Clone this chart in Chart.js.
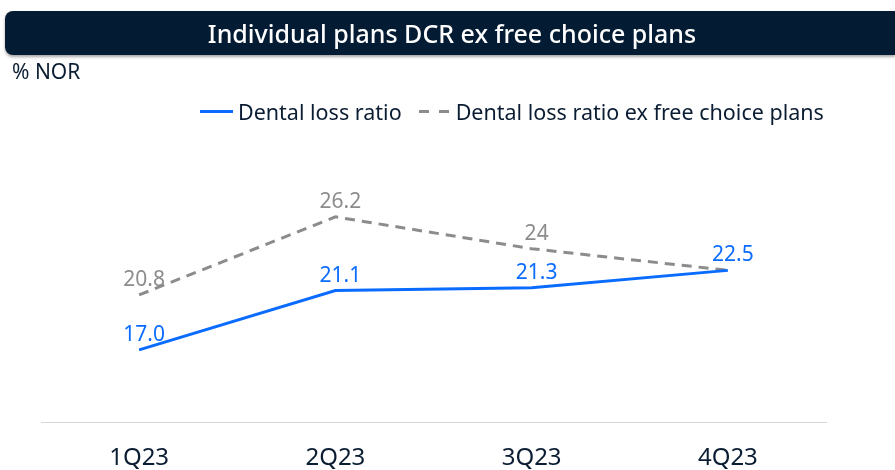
<!DOCTYPE html>
<html>
<head>
<meta charset="utf-8">
<script src="https://cdn.jsdelivr.net/npm/chart.js@4"></script>
<style>
    html, body { margin: 0; padding: 0; background: #fff; overflow: hidden; }
    body { width: 895px; height: 470px; position: relative; font-family: "Noto Sans", sans-serif; color: #0b1d33; }
    .titleBar {
        position: absolute; left: 5px; top: 11px; width: 890px; height: 44px;
        background: #031c33; border-radius: 8px 0 0 8px;
        box-shadow: 0 2px 3px rgba(0,0,0,0.35);
        color: #fff; font-size: 25px; font-weight: 500;
        display: flex; align-items: center; justify-content: center;
        padding-left: 4px; box-sizing: border-box;
    }
    .unit { position: absolute; left: 12px; top: 57px; font-size: 21px; }
    .legend { position: absolute; top: 97px; left: 200px; font-size: 21.5px; display: flex; align-items: center; white-space: nowrap; }
    .legend .swatch { display: inline-block; width: 33px; height: 3px; margin-right: 5px; }
    .legend .solid { background: #0a6cff; }
    .legend .dashed {
        width: 31px; margin-left: 17px; margin-right: 6px;
        background: repeating-linear-gradient(to right, #8c8c8c 0 10px, transparent 10px 20px);
    }
    #wrap { position: absolute; left: 0; top: 0; width: 895px; height: 509px; }
</style>
</head>
<body>
<div id="wrap"><canvas id="lossChart"></canvas></div>
<div class="titleBar">Individual plans DCR ex free choice plans</div>
<div class="unit">% NOR</div>
<div class="legend">
    <span class="swatch solid"></span><span>Dental loss ratio</span>
    <span class="swatch dashed"></span><span>Dental loss ratio ex free choice plans</span>
</div>
<script>
const quarters = ['1Q23', '2Q23', '3Q23', '4Q23'];
const dentalLossRatio = [17.0, 21.1, 21.3, 22.5];
const exFreeChoice = [20.8, 26.2, 24, 22.5];
const seriesNames = ['Dental loss ratio', 'Dental loss ratio ex free choice plans'];

const blue = '#0a6cff';
const gray = '#8c8c8c';

// Value labels above each point (gray last point sits on the blue one, so it is skipped)
const valueLabels = {
    id: 'valueLabels',
    afterDatasetsDraw(chart) {
        const ctx = chart.ctx;
        ctx.save();
        ctx.font = '21px "Noto Sans", sans-serif';
        ctx.textAlign = 'center';
        ctx.textBaseline = 'middle';
        chart.data.datasets.forEach((ds, i) => {
            const meta = chart.getDatasetMeta(i);
            meta.data.forEach((pt, j) => {
                if (i === 1 && j === ds.data.length - 1) return;
                const v = ds.data[j];
                const text = i === 0 ? v.toFixed(1) : String(v);
                ctx.fillStyle = ds.borderColor;
                ctx.fillText(text, pt.x + 5, pt.y - 15);
            });
        });
        ctx.restore();
    }
};

const ctx = document.getElementById('lossChart').getContext('2d');
new Chart(ctx, {
    type: 'line',
    data: {
        labels: quarters,
        datasets: [
            {
                label: seriesNames[0],
                data: dentalLossRatio,
                borderColor: blue,
                backgroundColor: blue,
                borderWidth: 3,
                pointRadius: 0,
                tension: 0
            },
            {
                label: seriesNames[1],
                data: exFreeChoice,
                borderColor: gray,
                backgroundColor: gray,
                borderWidth: 3,
                borderDash: [10, 7],
                pointRadius: 0,
                tension: 0
            }
        ]
    },
    options: {
        responsive: true,
        maintainAspectRatio: false,
        animation: false,
        layout: { padding: { left: 41, right: 69, top: 133, bottom: 14 } },
        plugins: {
            legend: { display: false },
            tooltip: { enabled: false }
        },
        scales: {
            x: {
                offset: true,
                grid: { display: false, drawTicks: false },
                border: { display: true, color: '#d6d6d6', width: 1 },
                ticks: {
                    color: '#0b1d33',
                    padding: 22,
                    font: { family: '"Noto Sans", sans-serif', size: 24 }
                }
            },
            y: {
                display: false,
                min: 12,
                max: 32
            }
        }
    },
    plugins: [valueLabels]
});
</script>
</body>
</html>
